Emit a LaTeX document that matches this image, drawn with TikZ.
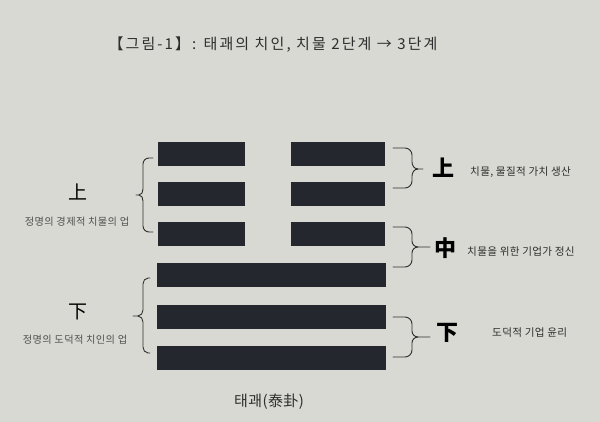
\documentclass[tikz,border=0pt]{standalone}
\usepackage{fontspec}
\setmainfont{Noto Sans CJK KR}
\newfontfamily\cjk{Noto Sans CJK KR}
\definecolor{paper}{HTML}{D9D9D3}
\definecolor{barcol}{HTML}{25272E}
\definecolor{ink}{HTML}{2E2E2E}
\definecolor{soft}{HTML}{505050}
\begin{document}
\begin{tikzpicture}[x=1pt,y=-1pt,
  bar/.style={fill=barcol, draw=none, minimum height=24pt, inner sep=0pt, anchor=north west},
  brace/.style={draw=ink, line width=0.9pt, line cap=round, line join=round},
  biglbl/.style={font=\cjk\bfseries\fontsize{22}{24}\selectfont, text=black, inner sep=0pt},
  leftbig/.style={font=\cjk\fontsize{19}{21}\selectfont, text=black, inner sep=0pt},
  desc/.style={font=\cjk\fontsize{10.6}{12}\selectfont\addfontfeature{LetterSpace=3}, text=ink, inner sep=0pt, anchor=west},
  leftdesc/.style={font=\cjk\fontsize{10.2}{11}\selectfont\addfontfeature{LetterSpace=4}, text=soft, inner sep=0pt}
]
\fill[paper] (0,0) rectangle (600,422);
\useasboundingbox (0,0) rectangle (600,422);

% title
\node[font=\cjk\fontsize{15}{17}\selectfont\addfontfeature{LetterSpace=14}, text=ink, inner sep=0pt] (title) at (273,45) {【그림-1】: 태괘의 치인, 치물 2단계 → 3단계};

% bars
\node[bar, minimum width=87pt] (b1l) at (158,142) {};
\node[bar, minimum width=94pt] (b1r) at (291,142) {};
\node[bar, minimum width=87pt] (b2l) at (158,182) {};
\node[bar, minimum width=94pt] (b2r) at (291,182) {};
\node[bar, minimum width=87pt] (b3l) at (158,222) {};
\node[bar, minimum width=94pt] (b3r) at (291,222) {};
\node[bar, minimum width=229pt] (b4) at (157,263) {};
\node[bar, minimum width=229pt] (b5) at (157,305) {};
\node[bar, minimum width=229pt] (b6) at (157,346) {};

% left braces
\draw[brace] (153,158) -- (149,158) to[out=180,in=90] (143,164) -- (143,189) to[out=-90,in=0] (139,195) -- (136,195);
\draw[brace] (139,195) to[out=0,in=90] (143,201) -- (143,226) to[out=-90,in=180] (149,232) -- (153,232);
\draw[brace] (150,278) -- (148,278) to[out=180,in=90] (143,284) -- (143,310) to[out=-90,in=0] (138,316) -- (133,316);
\draw[brace] (138,316) to[out=0,in=90] (143,322) -- (143,347) to[out=-90,in=180] (148,353) -- (150,353);

% right braces
\draw[brace] (393,148) -- (405,148) to[out=0,in=90] (412,155) -- (412,162) to[out=-90,in=180] (418,169) -- (423,169);
\draw[brace] (418,169) to[out=180,in=90] (412,176) -- (412,181) to[out=-90,in=0] (405,188) -- (393,188);
\draw[brace] (393,227) -- (405,227) to[out=0,in=90] (412,234) -- (412,241) to[out=-90,in=180] (418,247) -- (430,247);
\draw[brace] (418,247) to[out=180,in=90] (412,253) -- (412,260) to[out=-90,in=0] (405,267) -- (393,267);
\draw[brace] (393,317) -- (405,317) to[out=0,in=90] (412,324) -- (412,331) to[out=-90,in=180] (418,337) -- (430,337);
\draw[brace] (418,337) to[out=180,in=90] (412,343) -- (412,350) to[out=-90,in=0] (405,357) -- (393,357);

% left labels
\node[leftbig] (lu) at (78,192) {上};
\node[leftdesc] (lud) at (77,222) {정명의 경제적 치물의 업};
\node[leftbig] (ld) at (78,312) {下};
\node[leftdesc] (ldd) at (75,340) {정명의 도덕적 치인의 업};

% right labels
\node[biglbl] (ru) at (443,168) {上};
\node[desc] (rud) at (470,172) {치물, 물질적 가치 생산};
\node[biglbl] (rm) at (445,248) {中};
\node[desc] (rmd) at (467,252) {치물을 위한 기업가 정신};
\node[biglbl] (rd) at (447,333) {下};
\node[desc] (rdd) at (492,333) {도덕적 기업 윤리};

% caption
\node[font=\cjk\fontsize{15}{17}\selectfont\addfontfeature{LetterSpace=3}, text=ink, inner sep=0pt] (cap) at (269,402) {태괘(泰卦)};
\end{tikzpicture}
\end{document}
